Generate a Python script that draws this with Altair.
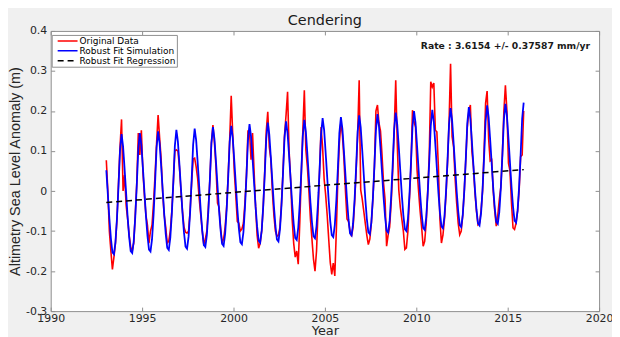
import altair as alt
import pandas as pd

# ---------------- data ----------------
first_year = 1993

# monthly sea level anomaly (m), one row per year, Jan..Dec
original = [
    0.077, 0.0, -0.10, -0.15, -0.196, -0.165, -0.13, -0.07, 0.02, 0.11, 0.179, 0.0,      # 1993
    0.04, -0.035, -0.07, -0.11, -0.14, -0.15, -0.13, -0.06, 0.02, 0.145, 0.09, 0.152,   # 1994
    0.05, -0.01, -0.06, -0.085, -0.13, -0.10, -0.085, -0.03, 0.04, 0.12, 0.19, 0.133,   # 1995
    0.08, -0.004, -0.06, -0.09, -0.13, -0.125, -0.10, -0.05, 0.02, 0.10, 0.103, 0.10,   # 1996
    0.06, 0.0, -0.05, -0.09, -0.103, -0.105, -0.10, -0.05, 0.02, 0.08, 0.082, 0.06,     # 1997
    0.03, -0.02, -0.06, -0.10, -0.134, -0.12, -0.10, -0.04, 0.03, 0.12, 0.165, 0.12,    # 1998
    0.06, -0.03, -0.04, -0.09, -0.129, -0.12, -0.09, -0.04, 0.04, 0.13, 0.238, 0.14,    # 1999
    0.05, -0.01, -0.076, -0.08, -0.10, -0.095, -0.08, -0.03, 0.04, 0.15, 0.15, 0.078,   # 2000
    0.145, 0.05, -0.04, -0.11, -0.143, -0.13, -0.10, -0.04, 0.05, 0.15, 0.198, 0.11,    # 2001
    0.08, 0.0, -0.06, -0.10, -0.113, -0.11, -0.09, -0.03, 0.05, 0.14, 0.19, 0.248,      # 2002
    0.10, 0.03, -0.07, -0.13, -0.165, -0.15, -0.183, -0.08, 0.04, 0.15, 0.252, 0.103,   # 2003
    0.06, 0.0, -0.07, -0.12, -0.17, -0.20, -0.15, -0.05, 0.05, 0.16, 0.108, 0.03,       # 2004
    -0.01, -0.06, -0.12, -0.178, -0.208, -0.18, -0.212, -0.10, 0.03, 0.12, 0.173, 0.14, # 2005
    0.08, 0.0, -0.07, -0.076, -0.10, -0.113, -0.09, -0.03, 0.05, 0.14, 0.277, 0.003,    # 2006
    -0.02, -0.05, -0.08, -0.11, -0.134, -0.12, -0.08, -0.02, 0.06, 0.20, 0.215, 0.17,   # 2007
    0.15, 0.09, 0.02, -0.022, -0.138, -0.11, -0.09, -0.03, 0.05, 0.15, 0.277, 0.12,     # 2008
    0.003, -0.04, -0.07, -0.10, -0.146, -0.142, -0.10, -0.02, 0.06, 0.202, 0.173, 0.16, # 2009
    0.053, 0.0, -0.05, -0.09, -0.138, -0.126, -0.08, 0.0, 0.09, 0.273, 0.26, 0.27,      # 2010
    0.152, 0.148, 0.061, -0.07, -0.13, -0.11, -0.07, -0.01, 0.07, 0.17, 0.318, 0.136,   # 2011
    0.11, 0.03, -0.03, -0.08, -0.109, -0.10, -0.06, 0.0, 0.08, 0.16, 0.20, 0.215,       # 2012
    0.10, 0.061, -0.004, -0.05, -0.084, -0.08, -0.05, 0.0, 0.10, 0.22, 0.25, 0.13,      # 2013
    0.075, 0.078, 0.0, -0.05, -0.088, -0.06, -0.022, 0.01, 0.09, 0.20, 0.264, 0.20,     # 2014
    0.07, 0.05, -0.03, -0.092, -0.096, -0.08, -0.05, 0.0, 0.086, 0.09, 0.20,            # 2015
]

simulation = [
    0.052, -0.008, -0.068, -0.118, -0.153, -0.158, -0.128, -0.068, 0.012, 0.102, 0.142, 0.112,  # 1993
    0.055, -0.005, -0.065, -0.115, -0.150, -0.155, -0.125, -0.065, 0.015, 0.105, 0.145, 0.115,  # 1994
    0.059, -0.001, -0.061, -0.111, -0.146, -0.151, -0.121, -0.061, 0.019, 0.109, 0.149, 0.119,  # 1995
    0.063, 0.003, -0.057, -0.107, -0.142, -0.147, -0.117, -0.057, 0.023, 0.113, 0.153, 0.123,   # 1996
    0.066, 0.006, -0.054, -0.104, -0.139, -0.144, -0.114, -0.054, 0.026, 0.116, 0.156, 0.126,   # 1997
    0.070, 0.010, -0.050, -0.100, -0.135, -0.140, -0.110, -0.050, 0.030, 0.120, 0.160, 0.130,   # 1998
    0.073, 0.013, -0.047, -0.097, -0.132, -0.137, -0.107, -0.047, 0.033, 0.123, 0.163, 0.133,   # 1999
    0.077, 0.017, -0.043, -0.093, -0.128, -0.133, -0.103, -0.043, 0.037, 0.127, 0.167, 0.137,   # 2000
    0.081, 0.021, -0.039, -0.089, -0.124, -0.129, -0.099, -0.039, 0.041, 0.131, 0.171, 0.141,   # 2001
    0.084, 0.024, -0.036, -0.086, -0.121, -0.126, -0.096, -0.036, 0.044, 0.134, 0.174, 0.144,   # 2002
    0.088, 0.028, -0.032, -0.082, -0.117, -0.122, -0.092, -0.032, 0.048, 0.138, 0.178, 0.148,   # 2003
    0.092, 0.032, -0.028, -0.078, -0.113, -0.118, -0.088, -0.028, 0.052, 0.142, 0.182, 0.152,   # 2004
    0.095, 0.035, -0.025, -0.075, -0.110, -0.115, -0.085, -0.025, 0.055, 0.145, 0.185, 0.155,   # 2005
    0.099, 0.039, -0.021, -0.071, -0.106, -0.111, -0.081, -0.021, 0.059, 0.149, 0.189, 0.159,   # 2006
    0.102, 0.042, -0.018, -0.068, -0.103, -0.108, -0.078, -0.018, 0.062, 0.152, 0.192, 0.162,   # 2007
    0.106, 0.046, -0.014, -0.064, -0.099, -0.104, -0.074, -0.014, 0.066, 0.156, 0.196, 0.166,   # 2008
    0.110, 0.050, -0.010, -0.060, -0.095, -0.100, -0.070, -0.010, 0.070, 0.160, 0.200, 0.170,   # 2009
    0.113, 0.053, -0.007, -0.057, -0.092, -0.097, -0.067, -0.007, 0.073, 0.163, 0.203, 0.173,   # 2010
    0.117, 0.057, -0.003, -0.053, -0.088, -0.093, -0.063, -0.003, 0.077, 0.167, 0.207, 0.177,   # 2011
    0.120, 0.060, 0.000, -0.050, -0.085, -0.090, -0.060, 0.000, 0.080, 0.170, 0.210, 0.180,     # 2012
    0.124, 0.064, 0.004, -0.046, -0.081, -0.086, -0.056, 0.004, 0.084, 0.174, 0.214, 0.184,     # 2013
    0.128, 0.068, 0.008, -0.042, -0.077, -0.082, -0.052, 0.008, 0.088, 0.178, 0.218, 0.188,     # 2014
    0.131, 0.071, 0.011, -0.039, -0.074, -0.079, -0.049, 0.011, 0.091, 0.181, 0.221,            # 2015
]

reg_years = [1993.04, 2015.88]
reg_values = [-0.0285, 0.0535]

x_ticks = [1990, 1995, 2000, 2005, 2010, 2015, 2020]
y_ticks = [-0.3, -0.2, -0.1, 0.0, 0.1, 0.2, 0.3, 0.4]

series_names = ["Original Data", "Robust Fit Simulation", "Robust Fit Regression"]
series_colors = ["#ff0000", "#0000ff", "#000000"]
series_dash = [[1, 0], [1, 0], [6, 4]]

title_text = "Cendering"
x_title = "Year"
y_title = "Altimetry Sea Level Anomaly (m)"
rate_text = "Rate : 3.6154 +/- 0.37587 mm/yr"

# ---------------- tables ----------------
times = [first_year + (i + 0.5) / 12 for i in range(len(original))]
df_orig = pd.DataFrame({"t": times, "v": original, "series": series_names[0]})
df_sim = pd.DataFrame({"t": times[:len(simulation)], "v": simulation, "series": series_names[1]})
df_reg = pd.DataFrame({"t": reg_years, "v": reg_values, "series": series_names[2]})
df_rate = pd.DataFrame({"label": [rate_text]})
df_title = pd.DataFrame({"label": [title_text]})

FRAME = "#8f8f8f"
TXT = "#262626"
FONT = "DejaVu Sans"
W, H = 552, 282

xscale = alt.Scale(domain=[1990, 2020], nice=False, zero=False)
yscale = alt.Scale(domain=[-0.3, 0.4], nice=False, zero=False)
cscale = alt.Scale(domain=series_names, range=series_colors)
dscale = alt.Scale(domain=series_names, range=series_dash)
legend = alt.Legend(title=None, orient="none", legendX=1, legendY=4)

ylab = ("abs(datum.value) < 1e-9 ? '0' : (datum.value < 0 ? '-' + format(-datum.value, '.1f') "
        ": format(datum.value, '.1f'))")

# axes: labels on one layer, inward ticks on the others
ax_x_lab = alt.Axis(orient="bottom", values=x_ticks, format="d", ticks=False, domain=False,
                    grid=False, labelPadding=1, labelFlush=False, title=x_title, titlePadding=2)
ax_y_lab = alt.Axis(orient="left", values=y_ticks, labelExpr=ylab, ticks=False, domain=False,
                    grid=False, labelPadding=4, labelFlush=False, title=y_title, titlePadding=3)
ax_x_bot = alt.Axis(orient="bottom", values=x_ticks, offset=-4, tickSize=4, labels=False,
                    domain=False, grid=False, title=None)
ax_y_left = alt.Axis(orient="left", values=y_ticks, offset=-4, tickSize=4, labels=False,
                     domain=False, grid=False, title=None)
ax_x_top = alt.Axis(orient="top", values=x_ticks, offset=-4, tickSize=4, labels=False,
                    domain=False, grid=False, title=None)
ax_y_right = alt.Axis(orient="right", values=y_ticks, offset=-4, tickSize=4, labels=False,
                      domain=False, grid=False, title=None)


def line_layer(df, xaxis, yaxis, width):
    return alt.Chart(df).mark_line(strokeWidth=width, interpolate="linear").encode(
        x=alt.X("t:Q", scale=xscale, axis=xaxis),
        y=alt.Y("v:Q", scale=yscale, axis=yaxis),
        color=alt.Color("series:N", scale=cscale, legend=legend),
        strokeDash=alt.StrokeDash("series:N", scale=dscale, legend=legend),
    )


red = line_layer(df_orig, ax_x_lab, ax_y_lab, 1.6)
blue = line_layer(df_sim, ax_x_bot, ax_y_left, 1.8)
reg = line_layer(df_reg, ax_x_top, ax_y_right, 1.5)

rate = alt.Chart(df_rate).mark_text(
    align="right", baseline="middle", font=FONT, fontSize=9.3, fontWeight="bold", color="#1a1a1a"
).encode(x=alt.value(543), y=alt.value(15.5), text="label:N")

title = alt.Chart(df_title).mark_text(
    align="center", baseline="alphabetic", font=FONT, fontSize=14.5, color="#1a1a1a"
).encode(x=alt.value(W / 2), y=alt.value(-6), text="label:N")

chart = (
    alt.layer(red, blue, reg, rate, title)
    .resolve_axis(x="independent", y="independent")
    .properties(
        width=W,
        height=H,
        autosize=alt.AutoSizeParams(type="none"),
        padding={"left": 43, "top": 22, "right": 13, "bottom": 30},
        background="#f0f0f0",
    )
    .configure_view(stroke=FRAME, strokeWidth=1, fill="white")
    .configure_axis(labelFont=FONT, labelFontSize=11, labelColor=TXT, titleFont=FONT,
                    titleFontSize=13, titleFontWeight="normal", titleColor=TXT,
                    tickColor=FRAME, tickWidth=1)
    .configure_axisLeft(titleFont="Liberation Sans", titleFontSize=14.5)
    .configure_legend(fillColor="white", strokeColor=FRAME, padding=1, labelFont=FONT,
                      labelFontSize=9, labelColor="#000000", symbolType="stroke",
                      symbolSize=400, symbolStrokeWidth=1.5, symbolOffset=4, labelOffset=1,
                      rowPadding=0, clipHeight=10, labelLimit=200)
)

chart.save("out.html", embed_options={"renderer": "svg", "actions": False})
